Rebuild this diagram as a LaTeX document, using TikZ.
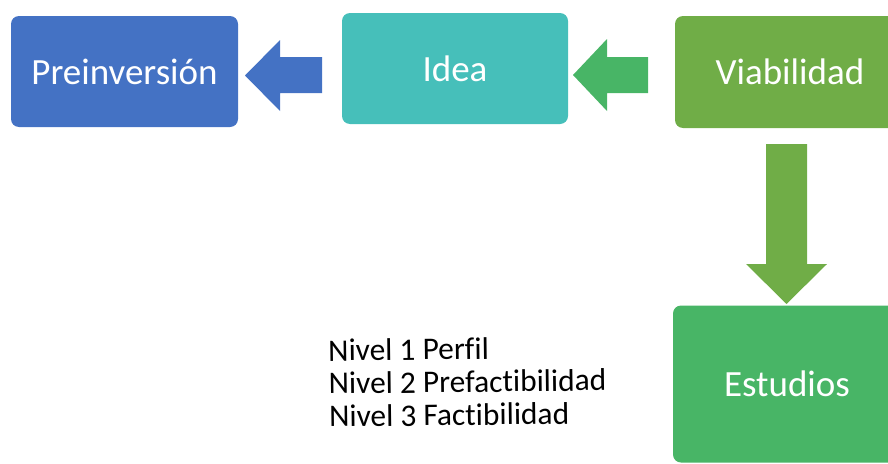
\documentclass[tikz,border=0pt]{standalone}
\usepackage{fontspec}
\setmainfont[Ligatures=NoCommon]{Carlito}
\usetikzlibrary{calc}

\definecolor{preblue}{HTML}{4472C4}
\definecolor{ideateal}{HTML}{46BFBA}
\definecolor{viagreen}{HTML}{70AD47}
\definecolor{estgreen}{HTML}{48B566}

\begin{document}
\begin{tikzpicture}[x=1pt,y=-1pt,
  etapa/.style={rounded corners=8pt, text=white, font=\fontsize{37}{42}\selectfont, inner sep=0pt}]
\useasboundingbox (0,0) rectangle (888,463);
\clip (0,0) rectangle (888,463);

\node[etapa, fill=preblue, minimum width=227pt, minimum height=111pt] (pre) at (124.5,71.5) {Preinversión};
\node[etapa, fill=ideateal, minimum width=226pt, minimum height=111pt] (idea) at (455,68.5) {Idea};
\node[etapa, fill=viagreen, minimum width=230pt, minimum height=112pt] (via) at (790,72) {Viabilidad};
\node[etapa, fill=estgreen, minimum width=228pt, minimum height=157pt] (est) at (787,384) {Estudios};

\fill[preblue] (322,57) -- (280,57) -- (280,40) -- (245,75.5) -- (280,111) -- (280,93) -- (322,93) -- cycle;
\fill[estgreen] (648,57) -- (607,57) -- (607,39) -- (573,75) -- (607,111) -- (607,93) -- (648,93) -- cycle;
\fill[viagreen] (766,144) -- (807,144) -- (807,264) -- (827,264) -- (786.5,304) -- (746,264) -- (766,264) -- cycle;

\node[anchor=north west, align=left, rotate=0.7, inner sep=0pt, font=\fontsize{31.4}{33}\selectfont] (niveles) at (328,339) {Nivel 1 Perfil\\Nivel 2 Prefactibilidad\\Nivel 3 Factibilidad};

\end{tikzpicture}
\end{document}
